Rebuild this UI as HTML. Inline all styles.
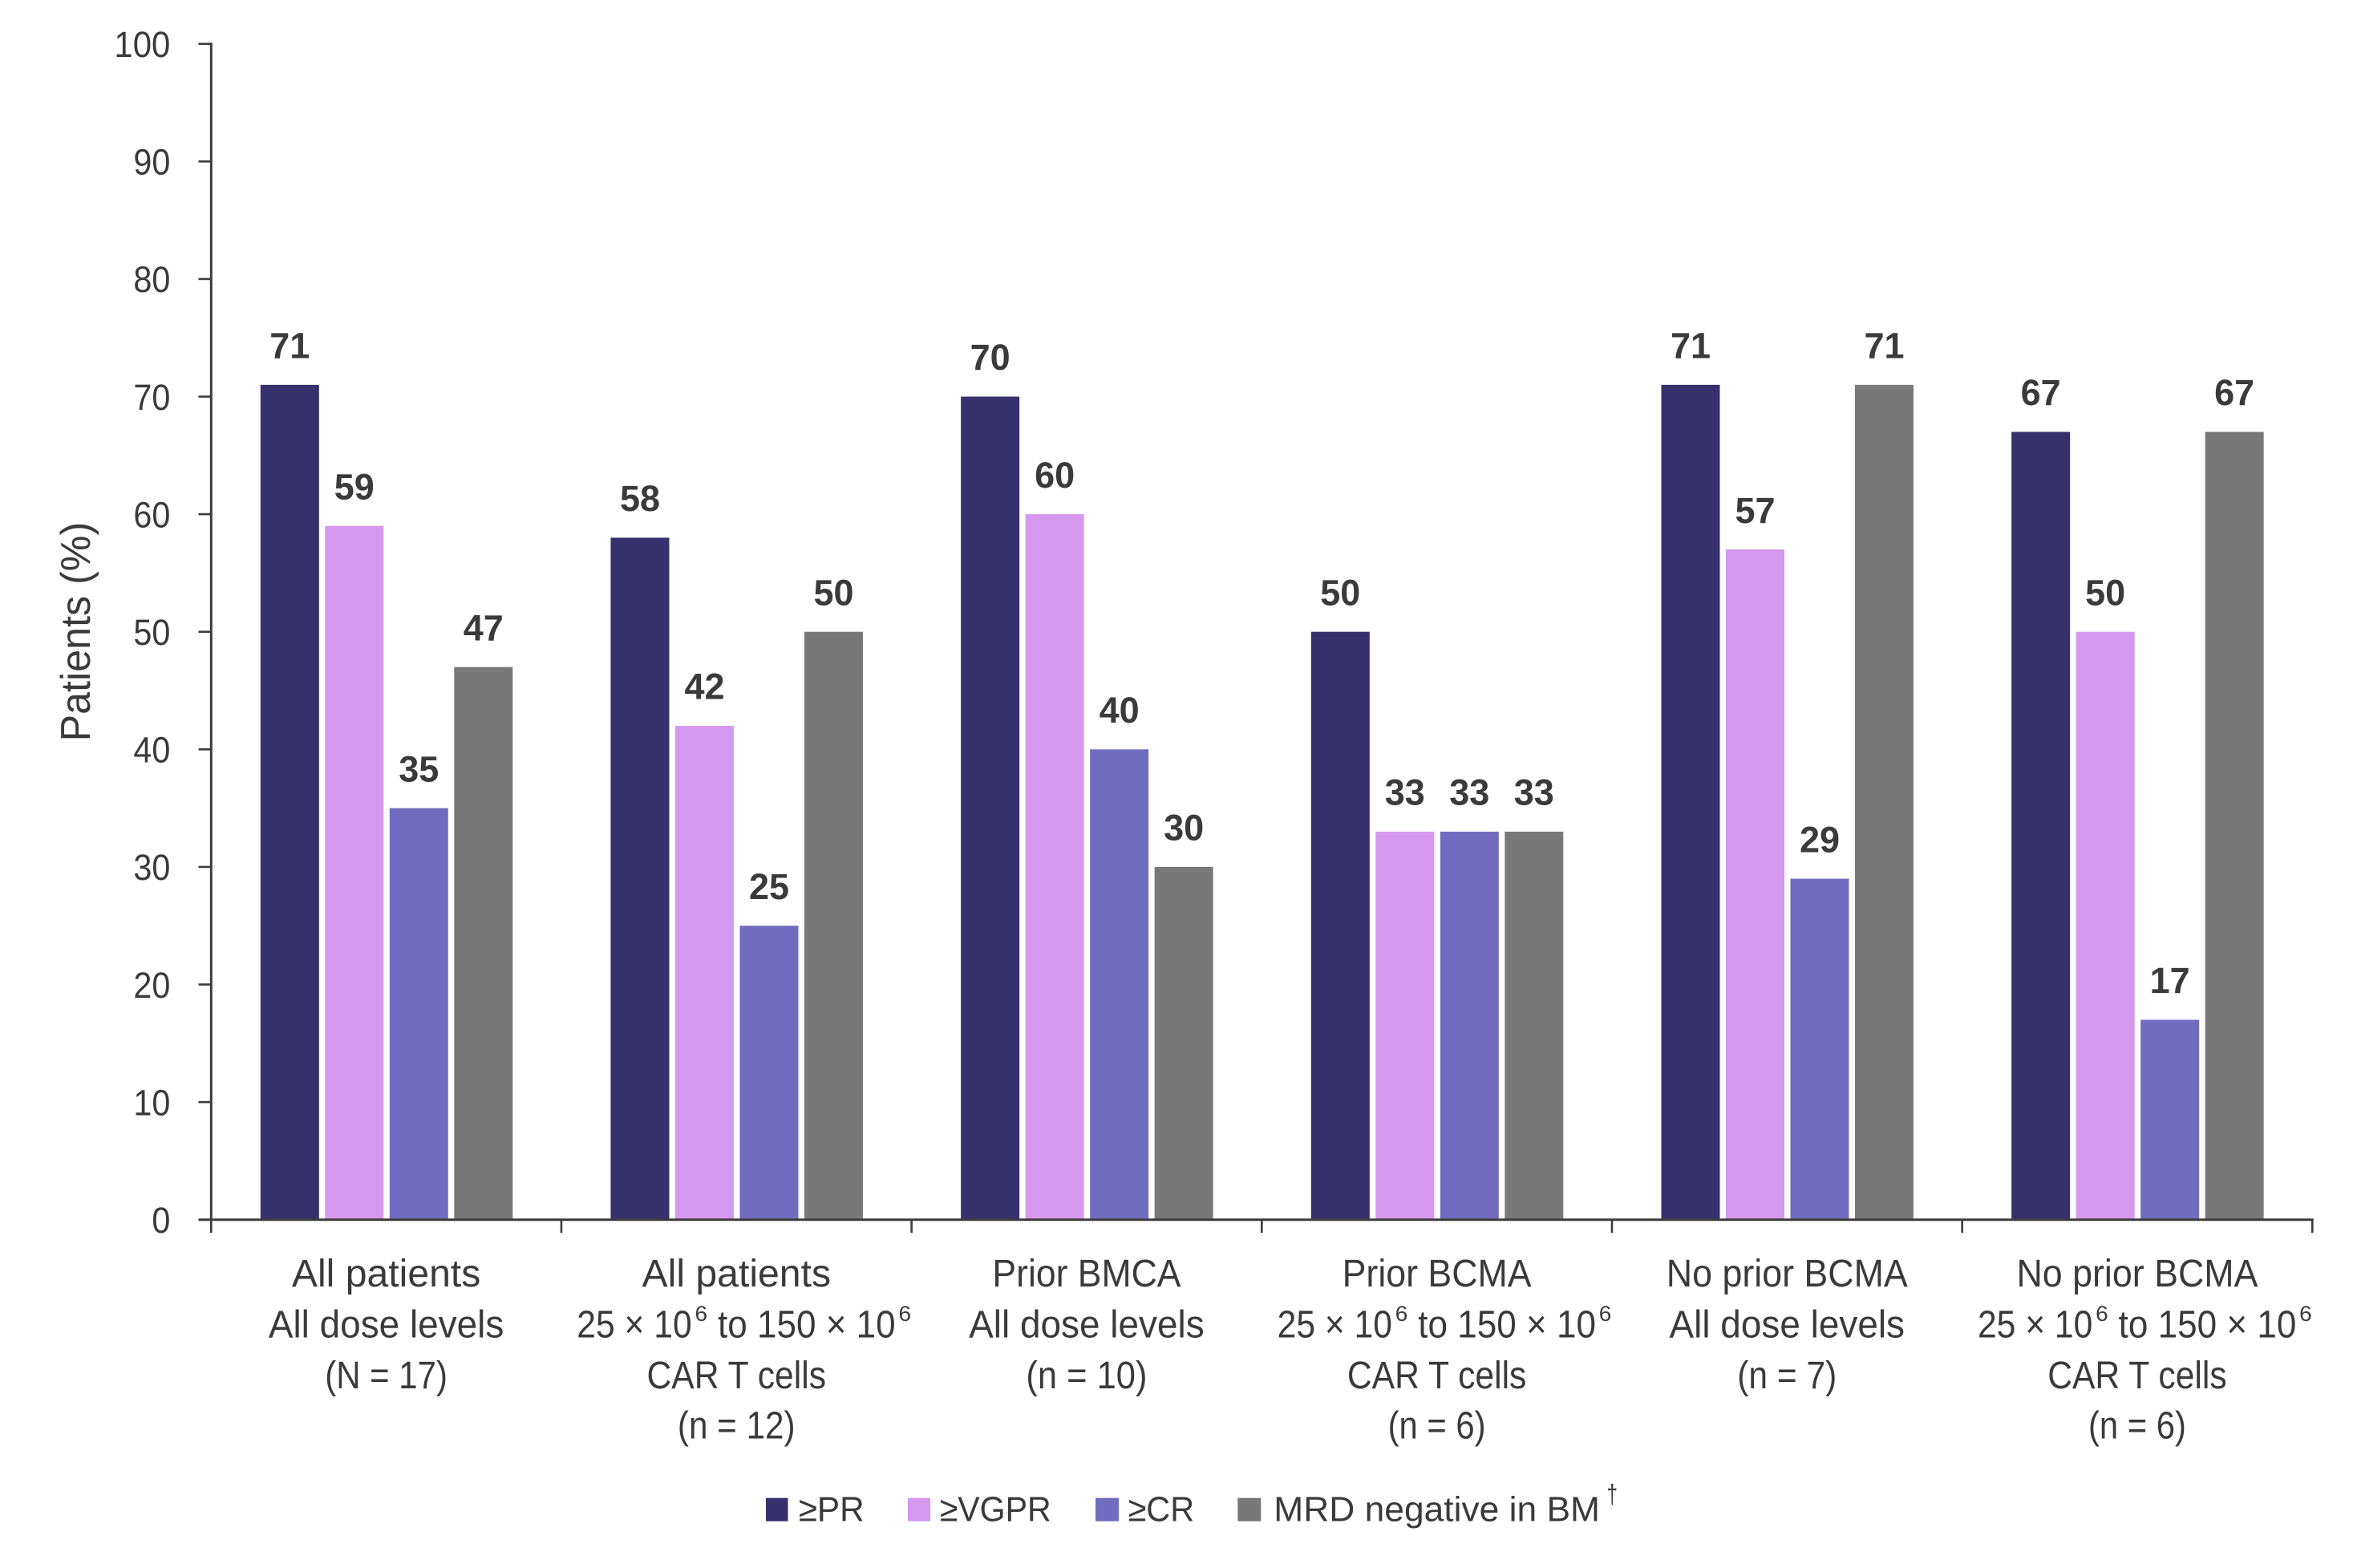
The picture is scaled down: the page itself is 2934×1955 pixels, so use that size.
<!DOCTYPE html>
<html>
<head>
<meta charset="utf-8">
<style>
  html, body { margin: 0; padding: 0; background: #ffffff; }
  svg { display: block; }
  text { font-family: "Liberation Sans", Arial, sans-serif; fill: #3a3a3a; }
  .tick { font-size: 45px; }
  .dl { font-size: 45px; font-weight: bold; }
  .cat { font-size: 48px; }
  .sup { font-size: 27px; }
  .leg { font-size: 44px; }
</style>
</head>
<body>
<svg width="2934" height="1955" viewBox="0 0 2934 1955" xmlns="http://www.w3.org/2000/svg">
  <rect x="0" y="0" width="2934" height="1955" fill="#ffffff"/>

  <!-- Y axis title -->
  <text transform="translate(112,787.6) rotate(-90)" text-anchor="middle" textLength="273.6" lengthAdjust="spacingAndGlyphs" style="font-size:52px">Patients (%)</text>

  <!-- Y tick labels -->
  <g text-anchor="end">
    <text class="tick" x="212.4" y="71" textLength="70" lengthAdjust="spacingAndGlyphs">100</text>
    <text class="tick" x="212.4" y="217.6" textLength="46" lengthAdjust="spacingAndGlyphs">90</text>
    <text class="tick" x="212.4" y="364.2" textLength="46" lengthAdjust="spacingAndGlyphs">80</text>
    <text class="tick" x="212.4" y="510.8" textLength="46" lengthAdjust="spacingAndGlyphs">70</text>
    <text class="tick" x="212.4" y="657.4" textLength="46" lengthAdjust="spacingAndGlyphs">60</text>
    <text class="tick" x="212.4" y="804" textLength="46" lengthAdjust="spacingAndGlyphs">50</text>
    <text class="tick" x="212.4" y="950.6" textLength="46" lengthAdjust="spacingAndGlyphs">40</text>
    <text class="tick" x="212.4" y="1097.2" textLength="46" lengthAdjust="spacingAndGlyphs">30</text>
    <text class="tick" x="212.4" y="1243.8" textLength="46" lengthAdjust="spacingAndGlyphs">20</text>
    <text class="tick" x="212.4" y="1390.4" textLength="46" lengthAdjust="spacingAndGlyphs">10</text>
    <text class="tick" x="212.4" y="1537" textLength="23" lengthAdjust="spacingAndGlyphs">0</text>
  </g>

  <!-- Group 1 -->
  <g transform="translate(263.3,0)">
    <rect x="61.5" y="479.84" width="73" height="1040.86" fill="#36316c"/>
    <rect x="142" y="655.76" width="73" height="864.94" fill="#d697ee"/>
    <rect x="222.5" y="1007.6" width="73" height="513.1" fill="#716cbf"/>
    <rect x="303" y="831.68" width="73" height="689.02" fill="#787878"/>
    <text class="dl" x="98" y="446.5" text-anchor="middle">71</text>
    <text class="dl" x="178.5" y="622.5" text-anchor="middle">59</text>
    <text class="dl" x="259" y="974.3" text-anchor="middle">35</text>
    <text class="dl" x="339.5" y="798.4" text-anchor="middle">47</text>
    <text class="cat" x="218.3" y="1604" text-anchor="middle" textLength="235.5" lengthAdjust="spacingAndGlyphs">All patients</text>
    <text class="cat" x="218.3" y="1667.7" text-anchor="middle" textLength="293.5" lengthAdjust="spacingAndGlyphs">All dose levels</text>
    <text class="cat" x="218.3" y="1731" text-anchor="middle" textLength="152.7" lengthAdjust="spacingAndGlyphs">(N = 17)</text>
  </g>

  <!-- Group 2 -->
  <g transform="translate(699.97,0)">
    <rect x="61.5" y="670.42" width="73" height="850.28" fill="#36316c"/>
    <rect x="142" y="904.98" width="73" height="615.72" fill="#d697ee"/>
    <rect x="222.5" y="1154.2" width="73" height="366.5" fill="#716cbf"/>
    <rect x="303" y="787.7" width="73" height="733" fill="#787878"/>
    <text class="dl" x="98" y="637.1" text-anchor="middle">58</text>
    <text class="dl" x="178.5" y="871.7" text-anchor="middle">42</text>
    <text class="dl" x="259" y="1120.9" text-anchor="middle">25</text>
    <text class="dl" x="339.5" y="754.4" text-anchor="middle">50</text>
    <text class="cat" x="218.3" y="1604" text-anchor="middle" textLength="235.5" lengthAdjust="spacingAndGlyphs">All patients</text>
    <text class="cat" x="19.3" y="1667.7" textLength="143.4" lengthAdjust="spacingAndGlyphs">25 × 10</text>
    <text class="sup" x="166.5" y="1647" textLength="15.6" lengthAdjust="spacingAndGlyphs">6</text>
    <text class="cat" x="195" y="1667.7" textLength="221.7" lengthAdjust="spacingAndGlyphs">to 150 × 10</text>
    <text class="sup" x="420.5" y="1647" textLength="15.6" lengthAdjust="spacingAndGlyphs">6</text>
    <text class="cat" x="218.3" y="1731" text-anchor="middle" textLength="223.5" lengthAdjust="spacingAndGlyphs">CAR T cells</text>
    <text class="cat" x="218.3" y="1793.5" text-anchor="middle" textLength="146.7" lengthAdjust="spacingAndGlyphs">(n = 12)</text>
  </g>

  <!-- Group 3 -->
  <g transform="translate(1136.64,0)">
    <rect x="61.5" y="494.5" width="73" height="1026.2" fill="#36316c"/>
    <rect x="142" y="641.1" width="73" height="879.6" fill="#d697ee"/>
    <rect x="222.5" y="934.3" width="73" height="586.4" fill="#716cbf"/>
    <rect x="303" y="1080.9" width="73" height="439.8" fill="#787878"/>
    <text class="dl" x="98" y="461.2" text-anchor="middle">70</text>
    <text class="dl" x="178.5" y="607.8" text-anchor="middle">60</text>
    <text class="dl" x="259" y="901" text-anchor="middle">40</text>
    <text class="dl" x="339.5" y="1047.6" text-anchor="middle">30</text>
    <text class="cat" x="218.3" y="1604" text-anchor="middle" textLength="235" lengthAdjust="spacingAndGlyphs">Prior BMCA</text>
    <text class="cat" x="218.3" y="1667.7" text-anchor="middle" textLength="293.5" lengthAdjust="spacingAndGlyphs">All dose levels</text>
    <text class="cat" x="218.3" y="1731" text-anchor="middle" textLength="151" lengthAdjust="spacingAndGlyphs">(n = 10)</text>
  </g>

  <!-- Group 4 -->
  <g transform="translate(1573.31,0)">
    <rect x="61.5" y="787.7" width="73" height="733" fill="#36316c"/>
    <rect x="142" y="1036.92" width="73" height="483.78" fill="#d697ee"/>
    <rect x="222.5" y="1036.92" width="73" height="483.78" fill="#716cbf"/>
    <rect x="303" y="1036.92" width="73" height="483.78" fill="#787878"/>
    <text class="dl" x="98" y="754.4" text-anchor="middle">50</text>
    <text class="dl" x="178.5" y="1003.6" text-anchor="middle">33</text>
    <text class="dl" x="259" y="1003.6" text-anchor="middle">33</text>
    <text class="dl" x="339.5" y="1003.6" text-anchor="middle">33</text>
    <text class="cat" x="218.3" y="1604" text-anchor="middle" textLength="236" lengthAdjust="spacingAndGlyphs">Prior BCMA</text>
    <text class="cat" x="19.3" y="1667.7" textLength="143.4" lengthAdjust="spacingAndGlyphs">25 × 10</text>
    <text class="sup" x="166.5" y="1647" textLength="15.6" lengthAdjust="spacingAndGlyphs">6</text>
    <text class="cat" x="195" y="1667.7" textLength="221.7" lengthAdjust="spacingAndGlyphs">to 150 × 10</text>
    <text class="sup" x="420.5" y="1647" textLength="15.6" lengthAdjust="spacingAndGlyphs">6</text>
    <text class="cat" x="218.3" y="1731" text-anchor="middle" textLength="223.5" lengthAdjust="spacingAndGlyphs">CAR T cells</text>
    <text class="cat" x="218.3" y="1793.5" text-anchor="middle" textLength="122" lengthAdjust="spacingAndGlyphs">(n = 6)</text>
  </g>

  <!-- Group 5 -->
  <g transform="translate(2009.98,0)">
    <rect x="61.5" y="479.84" width="73" height="1040.86" fill="#36316c"/>
    <rect x="142" y="685.08" width="73" height="835.62" fill="#d697ee"/>
    <rect x="222.5" y="1095.56" width="73" height="425.14" fill="#716cbf"/>
    <rect x="303" y="479.84" width="73" height="1040.86" fill="#787878"/>
    <text class="dl" x="98" y="446.5" text-anchor="middle">71</text>
    <text class="dl" x="178.5" y="651.8" text-anchor="middle">57</text>
    <text class="dl" x="259" y="1062.3" text-anchor="middle">29</text>
    <text class="dl" x="339.5" y="446.5" text-anchor="middle">71</text>
    <text class="cat" x="218.3" y="1604" text-anchor="middle" textLength="301" lengthAdjust="spacingAndGlyphs">No prior BCMA</text>
    <text class="cat" x="218.3" y="1667.7" text-anchor="middle" textLength="293.5" lengthAdjust="spacingAndGlyphs">All dose levels</text>
    <text class="cat" x="218.3" y="1731" text-anchor="middle" textLength="124" lengthAdjust="spacingAndGlyphs">(n = 7)</text>
  </g>

  <!-- Group 6 -->
  <g transform="translate(2446.65,0)">
    <rect x="61.5" y="538.48" width="73" height="982.22" fill="#36316c"/>
    <rect x="142" y="787.7" width="73" height="733" fill="#d697ee"/>
    <rect x="222.5" y="1271.48" width="73" height="249.22" fill="#716cbf"/>
    <rect x="303" y="538.48" width="73" height="982.22" fill="#787878"/>
    <text class="dl" x="98" y="505.2" text-anchor="middle">67</text>
    <text class="dl" x="178.5" y="754.4" text-anchor="middle">50</text>
    <text class="dl" x="259" y="1238.2" text-anchor="middle">17</text>
    <text class="dl" x="339.5" y="505.2" text-anchor="middle">67</text>
    <text class="cat" x="218.3" y="1604" text-anchor="middle" textLength="301" lengthAdjust="spacingAndGlyphs">No prior BCMA</text>
    <text class="cat" x="19.3" y="1667.7" textLength="143.4" lengthAdjust="spacingAndGlyphs">25 × 10</text>
    <text class="sup" x="166.5" y="1647" textLength="15.6" lengthAdjust="spacingAndGlyphs">6</text>
    <text class="cat" x="195" y="1667.7" textLength="221.7" lengthAdjust="spacingAndGlyphs">to 150 × 10</text>
    <text class="sup" x="420.5" y="1647" textLength="15.6" lengthAdjust="spacingAndGlyphs">6</text>
    <text class="cat" x="218.3" y="1731" text-anchor="middle" textLength="223.5" lengthAdjust="spacingAndGlyphs">CAR T cells</text>
    <text class="cat" x="218.3" y="1793.5" text-anchor="middle" textLength="122" lengthAdjust="spacingAndGlyphs">(n = 6)</text>
  </g>

  <!-- Axes -->
  <g stroke="#3c3c3c" fill="none">
    <line x1="263.3" y1="53.2" x2="263.3" y2="1522.2" stroke-width="3"/>
    <line x1="247.5" y1="1520.7" x2="2884.8" y2="1520.7" stroke-width="3"/>
    <g stroke-width="2.6">
      <line x1="247.5" y1="54.7" x2="263.3" y2="54.7"/>
      <line x1="247.5" y1="201.3" x2="263.3" y2="201.3"/>
      <line x1="247.5" y1="347.9" x2="263.3" y2="347.9"/>
      <line x1="247.5" y1="494.5" x2="263.3" y2="494.5"/>
      <line x1="247.5" y1="641.1" x2="263.3" y2="641.1"/>
      <line x1="247.5" y1="787.7" x2="263.3" y2="787.7"/>
      <line x1="247.5" y1="934.3" x2="263.3" y2="934.3"/>
      <line x1="247.5" y1="1080.9" x2="263.3" y2="1080.9"/>
      <line x1="247.5" y1="1227.5" x2="263.3" y2="1227.5"/>
      <line x1="247.5" y1="1374.1" x2="263.3" y2="1374.1"/>
      <line x1="263.3" y1="1520.7" x2="263.3" y2="1537"/>
      <line x1="699.97" y1="1520.7" x2="699.97" y2="1537"/>
      <line x1="1136.64" y1="1520.7" x2="1136.64" y2="1537"/>
      <line x1="1573.31" y1="1520.7" x2="1573.31" y2="1537"/>
      <line x1="2009.98" y1="1520.7" x2="2009.98" y2="1537"/>
      <line x1="2446.65" y1="1520.7" x2="2446.65" y2="1537"/>
      <line x1="2883.3" y1="1520.7" x2="2883.3" y2="1537"/>
    </g>
  </g>

  <!-- Legend -->
  <rect x="955" y="1867.7" width="27.5" height="29" fill="#36316c"/>
  <text class="leg" x="995.7" y="1896.7" textLength="82" lengthAdjust="spacingAndGlyphs">≥PR</text>
  <rect x="1132" y="1867.7" width="28" height="29" fill="#d697ee"/>
  <text class="leg" x="1171.7" y="1896.7" textLength="139" lengthAdjust="spacingAndGlyphs">≥VGPR</text>
  <rect x="1366" y="1867.7" width="29" height="29" fill="#716cbf"/>
  <text class="leg" x="1406.6" y="1896.7" textLength="82.5" lengthAdjust="spacingAndGlyphs">≥CR</text>
  <rect x="1543.3" y="1867.7" width="29" height="29" fill="#787878"/>
  <text class="leg" x="1588.3" y="1896.7" textLength="406.7" lengthAdjust="spacingAndGlyphs">MRD negative in BM</text>
  <text x="2003.5" y="1874" style="font-size:33px" textLength="13.5" lengthAdjust="spacingAndGlyphs">†</text>
</svg>
</body>
</html>
